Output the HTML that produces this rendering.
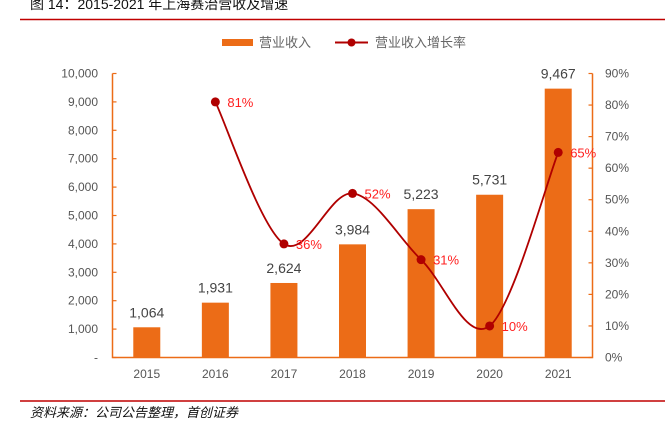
<!DOCTYPE html>
<html><head><meta charset="utf-8"><style>
body{margin:0;width:672px;height:424px;background:#fff;overflow:hidden;font-family:"Liberation Sans","Noto Sans CJK SC",sans-serif}
</style></head><body>
<svg width="672" height="424" xmlns="http://www.w3.org/2000/svg">
<text x="30" y="9" font-size="14" fill="#111">图  14：2015-2021 年上海赛治营收及增速</text>
<line x1="20" y1="19.5" x2="665" y2="19.5" stroke="#c00000" stroke-width="1.5"/>
<g>
<rect x="222" y="39" width="31" height="7" fill="#ec6c17"/>
<text x="259" y="47" font-size="13" fill="#666">营业收入</text>
<line x1="335" y1="42.5" x2="368" y2="42.5" stroke="#b00000" stroke-width="2"/>
<circle cx="351.5" cy="42.5" r="4" fill="#b00000"/>
<text x="375" y="47" font-size="13" fill="#666">营业收入增长率</text>
</g>
<g id="plot"></g>
<line x1="20" y1="401" x2="665" y2="401" stroke="#c00000" stroke-width="1.5"/>
<text x="30" y="417" font-size="13" font-style="italic" fill="#111">资料来源：公司公告整理，首创证券</text>
</svg>
<script>
const years=["2015","2016","2017","2018","2019","2020","2021"];
const revenue=[1064,1931,2624,3984,5223,5731,9467];
const revenueLabels=["1,064","1,931","2,624","3,984","5,223","5,731","9,467"];
const growth=[null,81,36,52,31,10,65];
const leftTicks=[0,1000,2000,3000,4000,5000,6000,7000,8000,9000,10000];
const leftTickLabels=["-","1,000","2,000","3,000","4,000","5,000","6,000","7,000","8,000","9,000","10,000"];
const rightTicks=[0,10,20,30,40,50,60,70,80,90];
const NS="http://www.w3.org/2000/svg";
const g=document.getElementById('plot');
const L=112.5,R=592.5,T=73.5,B=357.5;
const band=(R-L)/years.length;
const x=i=>L+band*(i+0.5);
const yL=v=>B-(v/10000)*(B-T);
const yR=v=>B-(v/90)*(B-T);
function mk(tag,at){const e=document.createElementNS(NS,tag);for(const k in at)e.setAttribute(k,at[k]);g.appendChild(e);return e;}
let e=mk('path',{d:`M${L} ${T}V${B}H${R}V${T}`,fill:'none',stroke:'#ec6c17','stroke-width':1.5});


leftTicks.forEach((v,i)=>{
 let t=mk('line',{x1:L,x2:L+4,y1:yL(v),y2:yL(v),stroke:'#ec6c17','stroke-width':1.2});
 
 
 let l=mk('text',{x:98,y:yL(v)+4,'font-size':12,fill:'#555','text-anchor':'end'});
 l.textContent=leftTickLabels[i];
 
 
});
rightTicks.forEach(v=>{
 let t=mk('line',{x1:R,x2:R-4,y1:yR(v),y2:yR(v),stroke:'#ec6c17','stroke-width':1.2});
 
 
 let l=mk('text',{x:605,y:yR(v)+4,'font-size':12,fill:'#555'});
 l.textContent=v+'%';
 
 
});
years.forEach((yr,i)=>{
 let b=mk('rect',{x:x(i)-13.5,y:yL(revenue[i]),width:27,height:B-yL(revenue[i]),fill:'#ec6c17'});
 
 
 let l=mk('text',{x:x(i),y:yL(revenue[i])-10,'font-size':14,fill:'#444','text-anchor':'middle'});
 l.textContent=revenueLabels[i];
 
 
 let c=mk('text',{x:x(i),y:378,'font-size':12,fill:'#555','text-anchor':'middle'});
 c.textContent=yr;
 
 
});
const pts=[];growth.forEach((v,i)=>{if(v!==null)pts.push([x(i),yR(v),i,v]);});
let d=`M${pts[0][0]} ${pts[0][1]}`;
for(let k=0;k<pts.length-1;k++){
 const p0=pts[Math.max(0,k-1)],p1=pts[k],p2=pts[k+1],p3=pts[Math.min(pts.length-1,k+2)];
 const c1x=p1[0]+(p2[0]-p0[0])/6,c1y=p1[1]+(p2[1]-p0[1])/6;
 const c2x=p2[0]-(p3[0]-p1[0])/6,c2y=p2[1]-(p3[1]-p1[1])/6;
 d+=` C${c1x} ${c1y} ${c2x} ${c2y} ${p2[0]} ${p2[1]}`;
}
let ln=mk('path',{d:d,fill:'none',stroke:'#b00000','stroke-width':1.8});


pts.forEach(p=>{
 let c=mk('circle',{cx:p[0],cy:p[1],r:4.5,fill:'#b00000'});
 
 
 let l=mk('text',{x:p[0]+12,y:p[1]+5,'font-size':13,fill:'#ff2020'});
 l.textContent=p[3]+'%';
 
 
});
</script>
</body></html>
